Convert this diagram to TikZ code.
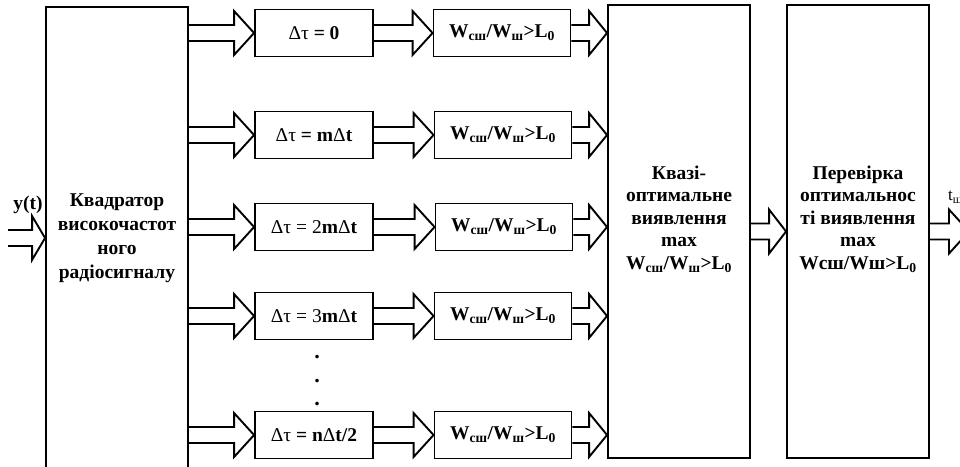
\documentclass[tikz,border=0pt]{standalone}
\usepackage{fontspec}
\setmainfont{Liberation Serif}
\usepackage{tikz}
\usetikzlibrary{calc}

% fat outline arrow: [head length]{start}{tip}
\newcommand{\fatarrow}[3][20]{%
  \draw[line width=1.9pt, line join=miter]
    ($(#2)+(0,-8)$) -- ($(#3)+(-#1,-8)$) -- ($(#3)+(-#1,-22)$) -- (#3)
    -- ($(#3)+(-#1,22)$) -- ($(#3)+(-#1,8)$) -- ($(#2)+(0,8)$);}

\tikzset{
  blk/.style={draw, line width=1.9pt, inner sep=0pt, align=center,
    font=\bfseries\fontsize{19.5}{24}\selectfont},
  delay/.style={blk, minimum width=118, minimum height=47},
  ratio/.style={blk, minimum width=137, minimum height=47},
  tall/.style={blk, minimum width=142, minimum height=453,
    font=\bfseries\fontsize{19.5}{22.5}\selectfont},
  dot/.style={inner sep=0pt, font=\bfseries\fontsize{22}{22}\selectfont},
}

\begin{document}
\begin{tikzpicture}[x=1pt, y=-1pt]
    \useasboundingbox (0,0) rectangle (960,466);

    \node[blk, minimum width=142, minimum height=462] (kvad) at (117,238)
      {Квадратор\\високочастот\\ного\\радіосигналу};

    \node[delay] (d0) at (314,33){\textmd{Δτ} = 0};
    \node[delay] (d1) at (314,135){\textmd{Δτ} = m\textmd{Δ}t};
    \node[delay] (d2) at (314,227){\textmd{Δτ = 2}m\textmd{Δ}t};
    \node[delay] (d3) at (314,316){\textmd{Δτ = 3}m\textmd{Δ}t};
    \node[delay] (d4) at (314,435){\textmd{Δτ} = n\textmd{Δ}t/2};

    \node[ratio] (w0) at (502,33){W\textsubscript{сш}/W\textsubscript{ш}>L\textsubscript{0}};
    \node[ratio] (w1) at (503,135){W\textsubscript{сш}/W\textsubscript{ш}>L\textsubscript{0}};
    \node[ratio] (w2) at (504,227){W\textsubscript{сш}/W\textsubscript{ш}>L\textsubscript{0}};
    \node[ratio] (w3) at (503,316){W\textsubscript{сш}/W\textsubscript{ш}>L\textsubscript{0}};
    \node[ratio] (w4) at (503,435){W\textsubscript{сш}/W\textsubscript{ш}>L\textsubscript{0}};

    \node[tall] (kvazi) at (679,231.5)
      {Квазі-\\оптимальне\\виявлення\\max\\W\textsubscript{сш}/W\textsubscript{ш}>L\textsubscript{0}\\[6pt]};
    \node[tall] (perev) at (858,231.5)
      {Перевірка\\оптимальнос\\ті виявлення\\max\\Wcш/Wш>L\textsubscript{0}\\[6pt]};

    % dots between the last rows
    \node[dot] (dt1) at (317,357){.};
    \node[dot] (dt2) at (317,381){.};
    \node[dot] (dt3) at (317,404){.};

    \coordinate (in) at (8,238);
    \coordinate (out) at (969,231.5);
    \node[font=\bfseries\fontsize{19.5}{22}\selectfont] (yt) at (28,205){y(t)};
    \node[anchor=west, inner sep=0pt, font=\fontsize{17}{20}\selectfont] (tsh) at (948,197){t\textsubscript{ш}};

    \fatarrow[13]{in}{kvad.west}
    \fatarrow{kvad.east |- d0.west}{d0.west}
    \fatarrow{kvad.east |- d1.west}{d1.west}
    \fatarrow{kvad.east |- d2.west}{d2.west}
    \fatarrow{kvad.east |- d3.west}{d3.west}
    \fatarrow{kvad.east |- d4.west}{d4.west}
    \fatarrow{d0.east}{w0.west |- d0.east}
    \fatarrow{d1.east}{w1.west |- d1.east}
    \fatarrow{d2.east}{w2.west |- d2.east}
    \fatarrow{d3.east}{w3.west |- d3.east}
    \fatarrow{d4.east}{w4.west |- d4.east}
    \fatarrow[18]{w0.east}{kvazi.west |- w0.east}
    \fatarrow[18]{w1.east}{kvazi.west |- w1.east}
    \fatarrow[18]{w2.east}{kvazi.west |- w2.east}
    \fatarrow[18]{w3.east}{kvazi.west |- w3.east}
    \fatarrow[18]{w4.east}{kvazi.west |- w4.east}
    \fatarrow[17]{kvazi.east}{perev.west}
    \fatarrow{perev.east}{out}
  \end{tikzpicture}
\end{document}
